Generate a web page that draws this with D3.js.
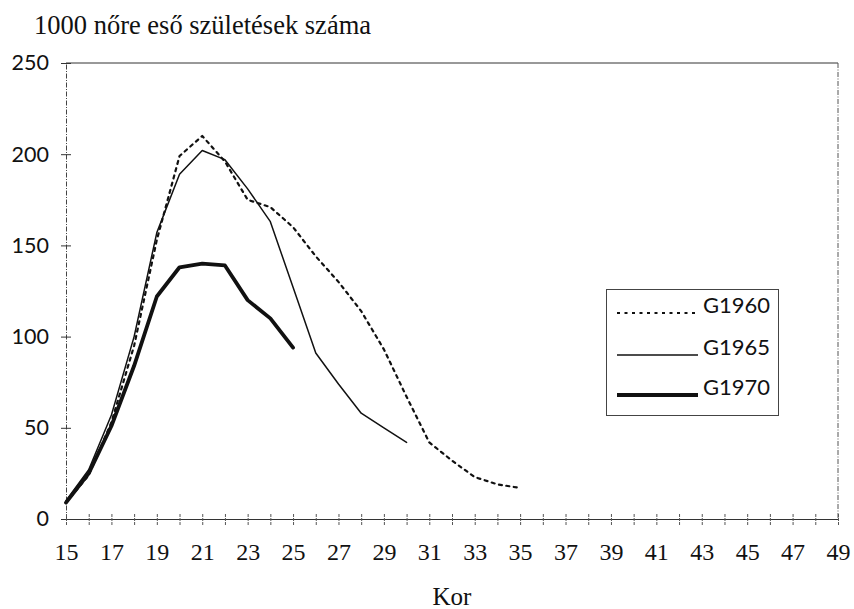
<!DOCTYPE html>
<html>
<head>
<meta charset="utf-8">
<script src="https://cdn.jsdelivr.net/npm/d3@7"></script>
<style>
  html, body { margin: 0; padding: 0; background: #fff; }
  svg { display: block; }
</style>
</head>
<body>
<svg id="chart" width="854" height="609"></svg>
<script>
// ---- data ----
const ages1960 = [15,16,17,18,19,20,21,22,23,24,25,26,27,28,29,30,31,32,33,34,35];
const g1960    = [9,24,53,95,153,199,210,196,175,171,160,144,130,114,93,67,42,32,23,19,17];
const ages1965 = [15,16,17,18,19,20,21,22,23,24,25,26,27,28,29,30];
const g1965    = [10,27,57,100,157,189,202,197,181,163,127,91,74,58,50,42];
const ages1970 = [15,16,17,18,19,20,21,22,23,24,25];
const g1970    = [9,25,51,84,122,138,140,139,120,110,94];
const seriesNames = ["G1960", "G1965", "G1970"];
const xTickLabels = [15,17,19,21,23,25,27,29,31,33,35,37,39,41,43,45,47,49];
const yTickLabels = [0,50,100,150,200,250];
const titleText = "1000 nőre eső születések száma";
const xTitle = "Kor";

// ---- layout ----
const svg = d3.select("#chart");
const L = 66, R = 838, T = 63, B = 519;
const x = d3.scaleLinear().domain([15, 49]).range([L, R]);
const y = d3.scaleLinear().domain([0, 250]).range([B, T]);
const ink = "#111";

// frame: top & right
svg.append("line").attr("x1", L).attr("x2", R).attr("y1", T).attr("y2", T)
  .attr("stroke", "#333").attr("stroke-width", 1);
svg.append("line").attr("x1", R).attr("x2", R).attr("y1", T).attr("y2", B)
  .attr("stroke", "#555").attr("stroke-width", 1).attr("stroke-dasharray", "5,1.5,1,1.5");

// y axis
const yAxis = d3.axisLeft(y).tickValues(yTickLabels).tickSize(0).tickPadding(17)
  .tickFormat(d3.format("d"));
const gy = svg.append("g").attr("transform", `translate(${L},0)`).call(yAxis);
gy.select(".domain").attr("stroke", "#444").attr("stroke-dasharray", "5,1.5,1,1.5");
gy.selectAll("text").attr("font-family", "Lato, 'Open Sans', sans-serif")
  .attr("font-size", 21.5).attr("fill", ink);
gy.selectAll(".tick").append("line").attr("x1", -5).attr("x2", 5)
  .attr("stroke", "#333").attr("stroke-width", 1);

// x axis: ticks on every year, labels on odd years
const xAxis = d3.axisBottom(x).tickValues(d3.range(15, 50)).tickSize(0).tickPadding(24)
  .tickFormat(d => xTickLabels.includes(d) ? d : "");
const gx = svg.append("g").attr("transform", `translate(0,${B})`).call(xAxis);
gx.select(".domain").attr("stroke", "#333").attr("stroke-width", 1.2);
gx.selectAll("text").attr("font-family", "'Liberation Serif', serif")
  .attr("font-size", 24).attr("fill", ink);
gx.selectAll(".tick").append("line").attr("y1", -5).attr("y2", 6)
  .attr("stroke", "#555").attr("stroke-width", 1).attr("stroke-dasharray", "3,1");

// titles
svg.append("text").attr("x", 34).attr("y", 34).text(titleText)
  .attr("font-family", "'Liberation Serif', serif").attr("font-size", 26.5).attr("fill", ink);
svg.append("text").attr("x", (L + R) / 2).attr("y", 605).attr("text-anchor", "middle").text(xTitle)
  .attr("font-family", "'Liberation Serif', serif").attr("font-size", 25).attr("fill", ink);

// series
const styles = [
  { width: 2.2, dash: "3,4.5" },
  { width: 1.5, dash: null },
  { width: 3.8, dash: null }
];
const series = [
  ages1960.map((a, i) => [a, g1960[i]]),
  ages1965.map((a, i) => [a, g1965[i]]),
  ages1970.map((a, i) => [a, g1970[i]])
];
const line = d3.line().x(d => x(d[0])).y(d => y(d[1]));
series.forEach((s, i) => {
  svg.append("path").datum(s).attr("d", line).attr("fill", "none")
    .attr("stroke", ink).attr("stroke-width", styles[i].width)
    .attr("stroke-linejoin", "round").attr("stroke-linecap", "round")
    .attr("stroke-dasharray", styles[i].dash);
});

// legend
const lg = svg.append("g");
lg.append("rect").attr("x", 606.5).attr("y", 289.5).attr("width", 172).attr("height", 126)
  .attr("fill", "#fff").attr("stroke", "#444").attr("stroke-width", 1);
const rowY = [313, 355, 395];
seriesNames.forEach((n, i) => {
  lg.append("line").attr("x1", 617).attr("x2", 698).attr("y1", rowY[i]).attr("y2", rowY[i])
    .attr("stroke", ink).attr("stroke-width", styles[i].width)
    .attr("stroke-dasharray", styles[i].dash);
  lg.append("text").attr("x", 703).attr("y", rowY[i]).text(n)
    .attr("font-family", "Lato, 'Open Sans', sans-serif").attr("font-size", 22).attr("fill", ink);
});
</script>
</body>
</html>
